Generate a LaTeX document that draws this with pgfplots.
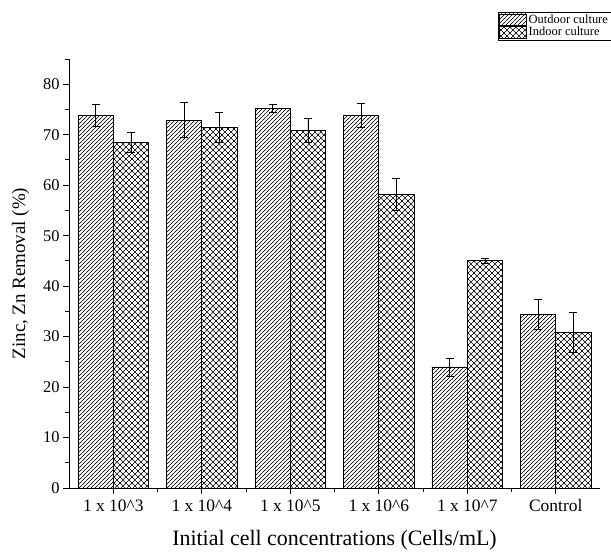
\documentclass[border=0pt]{standalone}
\usepackage{pgfplots}
\usepackage{pgfplotstable}
\pgfplotsset{compat=1.18}
\usepackage{fontspec}
\setmainfont{Liberation Serif}
\usetikzlibrary{patterns}
\pgfdeclarepatternformonly{mydiag}{\pgfpoint{-1bp}{-1bp}}{\pgfpoint{5bp}{5bp}}{\pgfpoint{4bp}{4bp}}{%
  \pgfsetlinewidth{0.4bp}%
  \pgfpathmoveto{\pgfpoint{-0.5bp}{-0.5bp}}\pgfpathlineto{\pgfpoint{4.5bp}{4.5bp}}%
  \pgfusepath{stroke}}
\pgfdeclarepatternformonly{mycross}{\pgfpoint{-1bp}{-1bp}}{\pgfpoint{7bp}{7bp}}{\pgfpoint{6bp}{6bp}}{%
  \pgfsetlinewidth{0.5bp}%
  \pgfpathmoveto{\pgfpoint{-0.5bp}{-0.5bp}}\pgfpathlineto{\pgfpoint{6.5bp}{6.5bp}}%
  \pgfpathmoveto{\pgfpoint{-0.5bp}{6.5bp}}\pgfpathlineto{\pgfpoint{6.5bp}{-0.5bp}}%
  \pgfusepath{stroke}}
\pgfplotstableread{
x y e
-0.2 73.9 2.2
0.8 72.9 3.5
1.8 75.2 0.8
2.8 73.9 2.4
3.8 24.0 1.8
4.8 34.4 3.0
}\outdoor
\pgfplotstableread{
x y e
0.2 68.5 2.0
1.2 71.5 2.9
2.2 70.9 2.4
3.2 58.2 3.2
4.2 45.1 0.5
5.2 30.9 4.0
}\indoor
\begin{document}
\begin{tikzpicture}
\useasboundingbox (-69bp,-67bp) rectangle (542bp,488bp);
\begin{axis}[
  at={(0,0)}, anchor=south west,
  scale only axis, width=531bp, height=429bp,
  axis lines=left, axis line style={-, line width=0.9pt},
  xmin=-0.5, xmax=5.5, ymin=0, ymax=85,
  xtick={0,...,5},
  xticklabels={1 x 10\^{}3,1 x 10\^{}4,1 x 10\^{}5,1 x 10\^{}6,1 x 10\^{}7,Control},
  minor xtick={0.5,1.5,2.5,3.5,4.5},
  ytick={0,10,...,80}, minor ytick={5,15,...,85},
  tick align=outside, tick pos=left,
  major tick length=6bp, minor tick length=4bp,
  tick style={black, line width=0.9pt},
  /pgf/number format/assume math mode=true,
  xticklabel style={font=\fontsize{17.5}{19}\selectfont, yshift=-2bp},
  yticklabel style={font=\fontsize{16.5}{19}\selectfont},
  xlabel style={font=\fontsize{22}{24}\selectfont, yshift=-12bp},
  ylabel style={font=\fontsize{19}{22}\selectfont, yshift=7bp},
  xlabel={Initial cell concentrations (Cells/mL)},
  ylabel={Zinc, Zn Removal (\%)},
  legend style={at={(1.021,1.11)}, anchor=north east, draw=black, line width=0.5pt,
    font=\fontsize{12.5}{13}\selectfont, inner sep=1pt, row sep=-2.5pt,
    cells={anchor=west}},
  legend image code/.code={\draw[#1] (0cm,-0.22cm) rectangle (0.95cm,0.22cm);},
  error bars/error bar style={black, line width=0.5pt},
  error bars/error mark options={rotate=90, mark size=4bp, black, line width=0.5pt},
]
\addplot[ybar, bar width=0.4, bar shift=0, draw=black, line width=0.6pt, pattern=mydiag,
  error bars/.cd, y dir=both, y explicit]
  table[x=x, y=y, y error=e]{\outdoor};
\addlegendentry{Outdoor culture}
\addplot[ybar, bar width=0.4, bar shift=0, draw=black, line width=0.6pt, pattern=mycross,
  error bars/.cd, y dir=both, y explicit]
  table[x=x, y=y, y error=e]{\indoor};
\addlegendentry{Indoor culture}
\end{axis}
\end{tikzpicture}
\end{document}
